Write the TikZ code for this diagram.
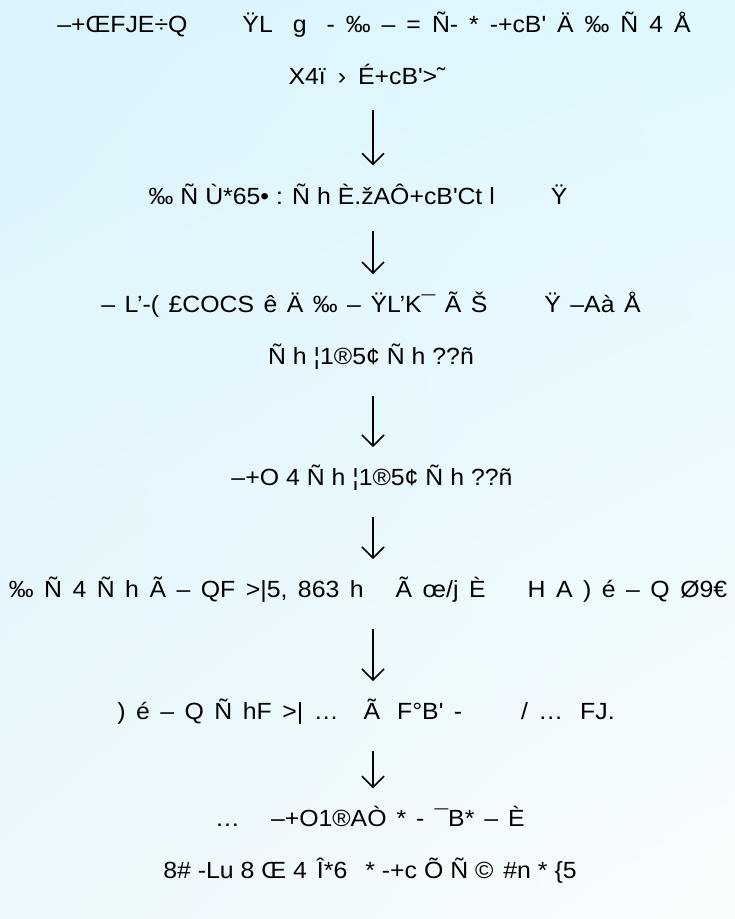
\documentclass[tikz,border=0pt]{standalone}
\usepackage{fontspec}
\setmainfont{Liberation Sans}[FakeStretch=1.06]
\usetikzlibrary{arrows.meta}
\usetikzlibrary{shadings}

\definecolor{bgTL}{RGB}{218,243,252}
\definecolor{bgTR}{RGB}{224,248,255}
\definecolor{bgBL}{RGB}{236,248,252}
\definecolor{bgBR}{RGB}{250,253,254}

\tikzset{
  linetext/.style={inner sep=0pt, align=center, font=\fontsize{23.5}{52}\selectfont},
  wordgap/.style={execute at begin node={\spaceskip=#1\relax}},
  flow/.style={-{Straight Barb[length=11bp,width=22bp]}, line width=1.6bp, shorten <=26bp, shorten >=18bp}
}

\begin{document}
\begin{tikzpicture}[x=1bp,y=-1bp]
\shade[upper left=bgTL, upper right=bgTR, lower left=bgBL, lower right=bgBR] (0,0) rectangle (735,919);

\coordinate (axis) at (373,0);
\node[linetext,wordgap=11bp](intro) at (374,48){–+ŒFJE÷Q\hspace{55bp}ŸL\hspace{20bp}g\hspace{20bp}- ‰ – = Ñ- * -+cB\textquotesingle{} Ä ‰ Ñ 4 Å\\
X4ï\hspace{12bp}›\hspace{12bp}É+cB\textquotesingle>˜\hspace*{14bp}};
\node[linetext,wordgap=6.95bp](check) at (358,194){‰ Ñ Ù*65• : Ñ h È.žAÔ+cB\textquotesingle Ct l\hspace{56bp}Ÿ};
\node[linetext,wordgap=9.5bp](split) at (371,331){– L’-( £COCS ê Ä ‰ – ŸL’K¯ Ã Š\hspace{57bp}Ÿ –Aà Å\\
{\spaceskip=6.95bp\relax Ñ h ¦1®5¢ Ñ h ??ñ}};
\node[linetext,wordgap=6.95bp](merge) at (372,478){–+O 4 Ñ h ¦1®5¢ Ñ h ??ñ};
\node[linetext,wordgap=10.5bp](fit) at (368,590){‰ Ñ 4 Ñ h Ã – QF >|5, 863 h\hspace{32bp}Ã œ/j È\hspace{42bp}H A ) é – Q Ø9€};
\node[linetext,wordgap=10.5bp](eval) at (366,712){) é – Q Ñ hF >| …\hspace{25bp}Ã\hspace{17bp}F°B\textquotesingle{} -\hspace{59bp}/ …\hspace{17bp}FJ.};
\node[linetext,wordgap=6.95bp](result) at (370,845){{\spaceskip=10bp\relax …\hspace{31bp}–+O1®AÒ * - ¯B* – È}\\
8\# -Lu 8 Œ 4\hspace{10bp}Î*6\hspace{18bp}* -+c Õ Ñ ©\hspace{10bp}\#n * \{5};

\draw[flow] (axis |- intro.south) -- (axis |- check.north);
\draw[flow] (axis |- check.south) -- (axis |- split.north);
\draw[flow] (axis |- split.south) -- (axis |- merge.north);
\draw[flow] (axis |- merge.south) -- (axis |- fit.north);
\draw[flow] (axis |- fit.south) -- (axis |- eval.north);
\draw[flow] (axis |- eval.south) -- (axis |- result.north);
\end{tikzpicture}
\end{document}
